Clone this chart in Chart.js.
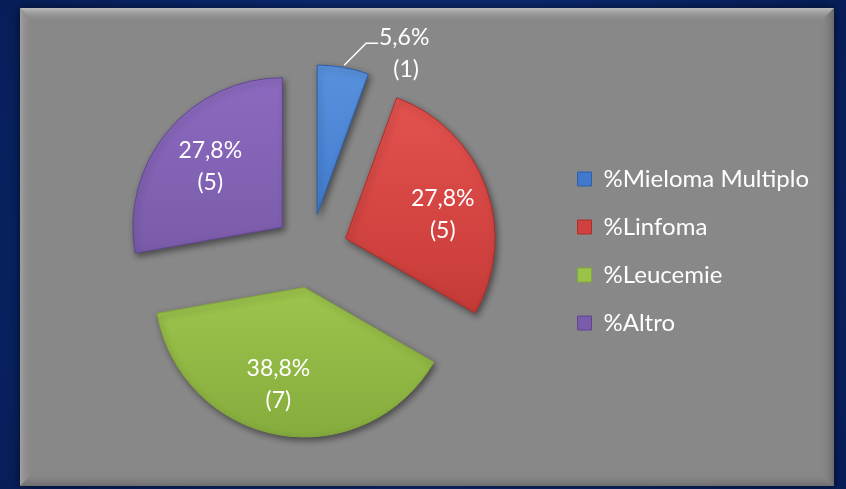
<!DOCTYPE html>
<html>
<head>
<meta charset="utf-8">
<script src="https://cdn.jsdelivr.net/npm/chart.js@4/dist/chart.umd.min.js"></script>
<style>
  html, body { margin: 0; padding: 0; background: #0b2a6b; }
  #wrap { width: 846px; height: 489px; position: relative; }
</style>
</head>
<body>
<div id="wrap"><canvas id="graph"></canvas></div>
<script>
// data
const labels = ['%Mieloma Multiplo', '%Linfoma', '%Leucemie', '%Altro']
const counts = [1, 5, 7, 5]
const percents = ['5,6%', '27,8%', '38,8%', '27,8%']

const lightColors = ['#5b95e0', '#e65552', '#b0d35e', '#8e6cc2']
const flatColors = ['#4079cc', '#cf413e', '#9bc24b', '#7b5cab']
const darkColors = ['#2f5fa8', '#ad2f2c', '#82a83a', '#624790']

const FONT = 'Lato, "Open Sans", sans-serif'
const EXPLODE = 37
// small nudges so the labels sit where Excel put them
const labelTurn = [0, 6, 5, 0]
const labelDist = [0, 0.67, 0.67, 0.63]

// background: navy frame with a bevelled grey panel
const backdrop = {
    id: 'backdrop',
    beforeDraw(chart) {
        const ctx = chart.ctx
        const w = chart.width, h = chart.height
        ctx.save()
        let g = ctx.createRadialGradient(w / 2, h / 2, 100, w / 2, h / 2, 520)
        g.addColorStop(0, '#0f3180')
        g.addColorStop(1, '#051c55')
        ctx.fillStyle = g
        ctx.fillRect(0, 0, w, h)

        const x0 = 20, y0 = 8, x1 = 834, y1 = 486
        ctx.shadowColor = 'rgba(0,0,0,0.6)'
        ctx.shadowBlur = 10
        ctx.fillStyle = '#888888'
        ctx.fillRect(x0, y0, x1 - x0, y1 - y0)
        ctx.shadowBlur = 0

        // top bevel
        g = ctx.createLinearGradient(0, y0, 0, y0 + 14)
        g.addColorStop(0, '#bdbdbd')
        g.addColorStop(1, 'rgba(136,136,136,0)')
        ctx.fillStyle = g
        ctx.beginPath()
        ctx.moveTo(x0, y0); ctx.lineTo(x1, y0); ctx.lineTo(x1 - 14, y0 + 14); ctx.lineTo(x0 + 14, y0 + 14); ctx.closePath()
        ctx.fill()
        // left bevel
        g = ctx.createLinearGradient(x0, 0, x0 + 12, 0)
        g.addColorStop(0, '#a0a0a0')
        g.addColorStop(1, 'rgba(136,136,136,0)')
        ctx.fillStyle = g
        ctx.beginPath()
        ctx.moveTo(x0, y0); ctx.lineTo(x0 + 12, y0 + 12); ctx.lineTo(x0 + 12, y1 - 12); ctx.lineTo(x0, y1); ctx.closePath()
        ctx.fill()
        // right bevel
        g = ctx.createLinearGradient(x1 - 14, 0, x1, 0)
        g.addColorStop(0, 'rgba(136,136,136,0)')
        g.addColorStop(1, '#6a6a6a')
        ctx.fillStyle = g
        ctx.beginPath()
        ctx.moveTo(x1, y0); ctx.lineTo(x1, y1); ctx.lineTo(x1 - 14, y1 - 14); ctx.lineTo(x1 - 14, y0 + 14); ctx.closePath()
        ctx.fill()
        // bottom bevel
        g = ctx.createLinearGradient(0, y1 - 14, 0, y1)
        g.addColorStop(0, 'rgba(136,136,136,0)')
        g.addColorStop(1, '#6e6e6e')
        ctx.fillStyle = g
        ctx.beginPath()
        ctx.moveTo(x0, y1); ctx.lineTo(x1, y1); ctx.lineTo(x1 - 14, y1 - 14); ctx.lineTo(x0 + 14, y1 - 14); ctx.closePath()
        ctx.fill()
        ctx.restore()
    },
    // draw each slice pushed outward along its middle angle
    beforeDatasetDraw(chart, args) {
        const ctx = chart.ctx
        const arcs = args.meta.data
        ctx.save()
        ctx.shadowColor = 'rgba(0,0,0,0.45)'
        ctx.shadowBlur = 6
        ctx.shadowOffsetX = 2
        ctx.shadowOffsetY = 3
        arcs.forEach(arc => {
            const mid = (arc.startAngle + arc.endAngle) / 2
            ctx.save()
            ctx.translate(Math.cos(mid) * EXPLODE, Math.sin(mid) * EXPLODE)
            arc.draw(ctx)
            ctx.restore()
        })
        ctx.restore()
        return false
    }
}

// percentage + count labels
const sliceLabels = {
    id: 'sliceLabels',
    afterDatasetsDraw(chart) {
        const ctx = chart.ctx
        const arcs = chart.getDatasetMeta(0).data
        ctx.save()
        ctx.fillStyle = '#ffffff'
        ctx.font = '23px ' + FONT
        ctx.textAlign = 'center'
        ctx.textBaseline = 'middle'
        arcs.forEach((arc, i) => {
            const p = arc.getProps(['x', 'y', 'startAngle', 'endAngle', 'outerRadius'], true)
            const mid = (p.startAngle + p.endAngle) / 2
            const cx = p.x + Math.cos(mid) * EXPLODE
            const cy = p.y + Math.sin(mid) * EXPLODE
            if (i === 0) {
                // outside label with leader line
                const ex = cx + Math.cos(mid) * p.outerRadius
                const ey = cy + Math.sin(mid) * p.outerRadius
                ctx.strokeStyle = '#ffffff'
                ctx.lineWidth = 1.5
                ctx.beginPath()
                ctx.moveTo(ex + 1, ey - 2)
                ctx.lineTo(ex + 23, ey - 24)
                ctx.lineTo(ex + 35, ey - 24)
                ctx.stroke()
                ctx.fillText(percents[i], ex + 61, ey - 30)
                ctx.fillText('(' + counts[i] + ')', ex + 63, ey + 2)
            } else {
                const a = mid + labelTurn[i] * Math.PI / 180
                const r = p.outerRadius * labelDist[i]
                const lx = cx + Math.cos(a) * r
                const ly = cy + Math.sin(a) * r
                ctx.fillText(percents[i], lx, ly - 16)
                ctx.fillText('(' + counts[i] + ')', lx, ly + 16)
            }
        })
        ctx.restore()
    }
}

function sliceFill(c) {
    const i = c.dataIndex
    const area = c.chart.chartArea
    if (!area) return flatColors[i]
    const g = c.chart.ctx.createLinearGradient(0, area.top - 20, 0, area.bottom + 20)
    g.addColorStop(0, lightColors[i])
    g.addColorStop(0.55, flatColors[i])
    g.addColorStop(1, darkColors[i])
    return g
}

let graph = document.getElementById('graph').getContext('2d')

new Chart(graph, {
    type: 'pie',
    data: {
        labels: labels,
        datasets: [
            {
                data: counts,
                backgroundColor: sliceFill,
                borderColor: darkColors,
                borderWidth: 1,
            }
        ]
    },
    options: {
        responsive: true,
        maintainAspectRatio: false,
        animation: false,
        layout: {
            padding: { left: 68, right: 27, top: 101, bottom: 88 }
        },
        plugins: {
            tooltip: { enabled: false },
            legend: {
                position: 'right',
                labels: {
                    color: '#ffffff',
                    font: { family: FONT, size: 24 },
                    boxWidth: 14,
                    boxHeight: 14,
                    padding: 24,
                    generateLabels: () => labels.map((t, i) => ({
                        text: t,
                        fillStyle: flatColors[i],
                        strokeStyle: darkColors[i],
                        lineWidth: 1,
                        fontColor: '#ffffff',
                        hidden: false,
                        index: i
                    }))
                }
            }
        }
    },
    plugins: [backdrop, sliceLabels]
})
</script>
</body>
</html>
